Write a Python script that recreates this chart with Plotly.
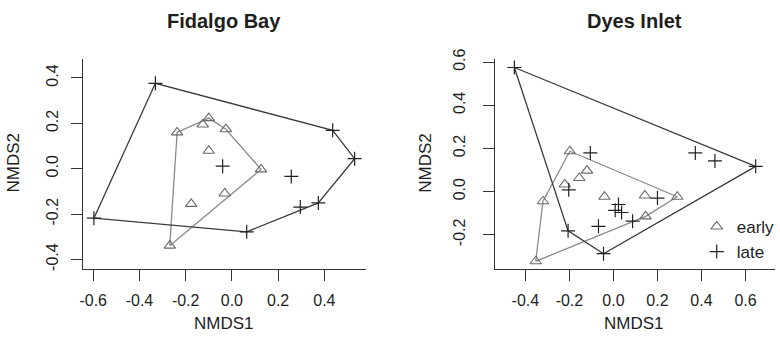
import plotly.graph_objects as go

# ---- data ----
fid_early_x = [-0.100, -0.126, -0.237, -0.026, -0.100, 0.126, -0.031, -0.176, -0.269]
fid_early_y = [0.223, 0.195, 0.160, 0.174, 0.079, -0.003, -0.109, -0.155, -0.339]
fid_late_x = [-0.331, 0.436, 0.531, -0.040, 0.257, 0.296, 0.374, 0.064, -0.597]
fid_late_y = [0.376, 0.169, 0.044, 0.011, -0.034, -0.169, -0.151, -0.278, -0.218]

dye_early_x = [-0.198, -0.120, -0.155, -0.221, -0.320, -0.041, 0.143, 0.290, 0.146, -0.353]
dye_early_y = [0.187, 0.097, 0.063, 0.033, -0.045, -0.024, -0.018, -0.024, -0.115, -0.323]
dye_late_x = [-0.450, 0.646, 0.372, 0.461, -0.105, -0.203, 0.200, 0.023, 0.008, 0.037,
              0.087, -0.068, -0.206, -0.045]
dye_late_y = [0.575, 0.117, 0.179, 0.142, 0.179, 0.008, -0.030, -0.060, -0.087, -0.097,
              -0.137, -0.161, -0.182, -0.288]

titles = ["Fidalgo Bay", "Dyes Inlet"]
group_names = ["early", "late"]
x_ticks_left = [-0.6, -0.4, -0.2, 0.0, 0.2, 0.4]
y_ticks_left = [-0.4, -0.2, 0.0, 0.2, 0.4]
x_ticks_right = [-0.4, -0.2, 0.0, 0.2, 0.4, 0.6]
y_ticks_right = [-0.2, 0.0, 0.2, 0.4, 0.6]


def hull(xs, ys):
    pts = sorted(set(zip(xs, ys)))
    if len(pts) < 3:
        return pts

    def cross(o, a, b):
        return (a[0] - o[0]) * (b[1] - o[1]) - (a[1] - o[1]) * (b[0] - o[0])

    lower, upper = [], []
    for p in pts:
        while len(lower) >= 2 and cross(lower[-2], lower[-1], p) <= 0:
            lower.pop()
        lower.append(p)
    for p in reversed(pts):
        while len(upper) >= 2 and cross(upper[-2], upper[-1], p) <= 0:
            upper.pop()
        upper.append(p)
    h = lower[:-1] + upper[:-1]
    h.append(h[0])
    return h


FONT = "Liberation Sans, Arial, sans-serif"
TXT = "#1e1e1e"
EARLY_PT = "#6a6a6a"
EARLY_LN = "#8a8a8a"
LATE_PT = "#202020"
LATE_LN = "#3a3a3a"

fig = go.Figure()

panels = [
    ("x", "y", fid_early_x, fid_early_y, fid_late_x, fid_late_y, False),
    ("x2", "y2", dye_early_x, dye_early_y, dye_late_x, dye_late_y, True),
]
for xa, ya, ex, ey, lx, ly, leg in panels:
    he = hull(ex, ey)
    hl = hull(lx, ly)
    fig.add_trace(go.Scatter(x=[p[0] for p in he], y=[p[1] for p in he], mode="lines",
                             line=dict(color=EARLY_LN, width=1.3), showlegend=False,
                             hoverinfo="skip", xaxis=xa, yaxis=ya))
    fig.add_trace(go.Scatter(x=[p[0] for p in hl], y=[p[1] for p in hl], mode="lines",
                             line=dict(color=LATE_LN, width=1.3), showlegend=False,
                             hoverinfo="skip", xaxis=xa, yaxis=ya))
    fig.add_trace(go.Scatter(x=ex, y=ey, mode="markers", name=group_names[0],
                             marker=dict(symbol="triangle-up-open", size=10, color=EARLY_PT,
                                         line=dict(width=1.1, color=EARLY_PT)),
                             showlegend=leg, xaxis=xa, yaxis=ya))
    fig.add_trace(go.Scatter(x=lx, y=ly, mode="markers", name=group_names[1],
                             marker=dict(symbol="cross-thin-open", size=10, color=LATE_PT,
                                         line=dict(width=1.2, color=LATE_PT)),
                             showlegend=leg, xaxis=xa, yaxis=ya))

ydom = [0.233, 0.8567]
common = dict(showline=True, linecolor="#333333", linewidth=1, mirror=False,
              showgrid=False, zeroline=False, ticks="outside", ticklen=11,
              tickwidth=1, tickcolor="#333333",
              tickfont=dict(family=FONT, size=16, color=TXT))

fig.update_layout(
    width=780, height=349,
    margin=dict(l=0, r=0, t=0, b=0),
    paper_bgcolor="white", plot_bgcolor="white",
    xaxis=dict(domain=[80 / 780, 365 / 780], range=[-0.643, 0.579],
               tickvals=x_ticks_left, ticktext=[f"{v:.1f}" for v in x_ticks_left],
               ticklabelstandoff=5, anchor="y", **common),
    yaxis=dict(domain=ydom, range=[-0.444, 0.482],
               tickvals=y_ticks_left, ticktext=[f"{v:.1f}" for v in y_ticks_left],
               tickangle=-90, ticklabelstandoff=7, anchor="x", **common),
    xaxis2=dict(domain=[495 / 780, 778 / 780], range=[-0.54, 0.734],
                tickvals=x_ticks_right, ticktext=[f"{v:.1f}" for v in x_ticks_right],
                ticklabelstandoff=5, anchor="y2", **common),
    yaxis2=dict(domain=ydom, range=[-0.361, 0.613],
                tickvals=y_ticks_right, ticktext=[f"{v:.1f}" for v in y_ticks_right],
                tickangle=-90, ticklabelstandoff=11, anchor="x2", **common),
    legend=dict(x=699 / 780, y=(349 - 205) / 349, xanchor="left", yanchor="top",
                bgcolor="rgba(0,0,0,0)", font=dict(family=FONT, size=17, color=TXT),
                itemwidth=30, tracegroupgap=0),
    showlegend=True,
)

ann = []
for t, cx in zip(titles, [222, 636]):
    ann.append(dict(text=f"<b>{t}</b>", x=cx / 780, y=(349 - 10) / 349, xref="paper",
                    yref="paper", showarrow=False, xanchor="center", yanchor="middle",
                    font=dict(family=FONT, size=20, color=TXT)))
for cx in [222, 636]:
    ann.append(dict(text="NMDS1", x=cx / 780, y=(349 - 324) / 349, xref="paper",
                    yref="paper", showarrow=False, xanchor="center", yanchor="middle",
                    font=dict(family=FONT, size=17, color=TXT)))
for cx in [10, 425]:
    ann.append(dict(text="NMDS2", x=cx / 780, y=(349 - 157) / 349, xref="paper",
                    yref="paper", showarrow=False, xanchor="center", yanchor="middle",
                    textangle=-90, font=dict(family=FONT, size=17, color=TXT)))
fig.update_layout(annotations=ann)

fig.write_html("out.html")
